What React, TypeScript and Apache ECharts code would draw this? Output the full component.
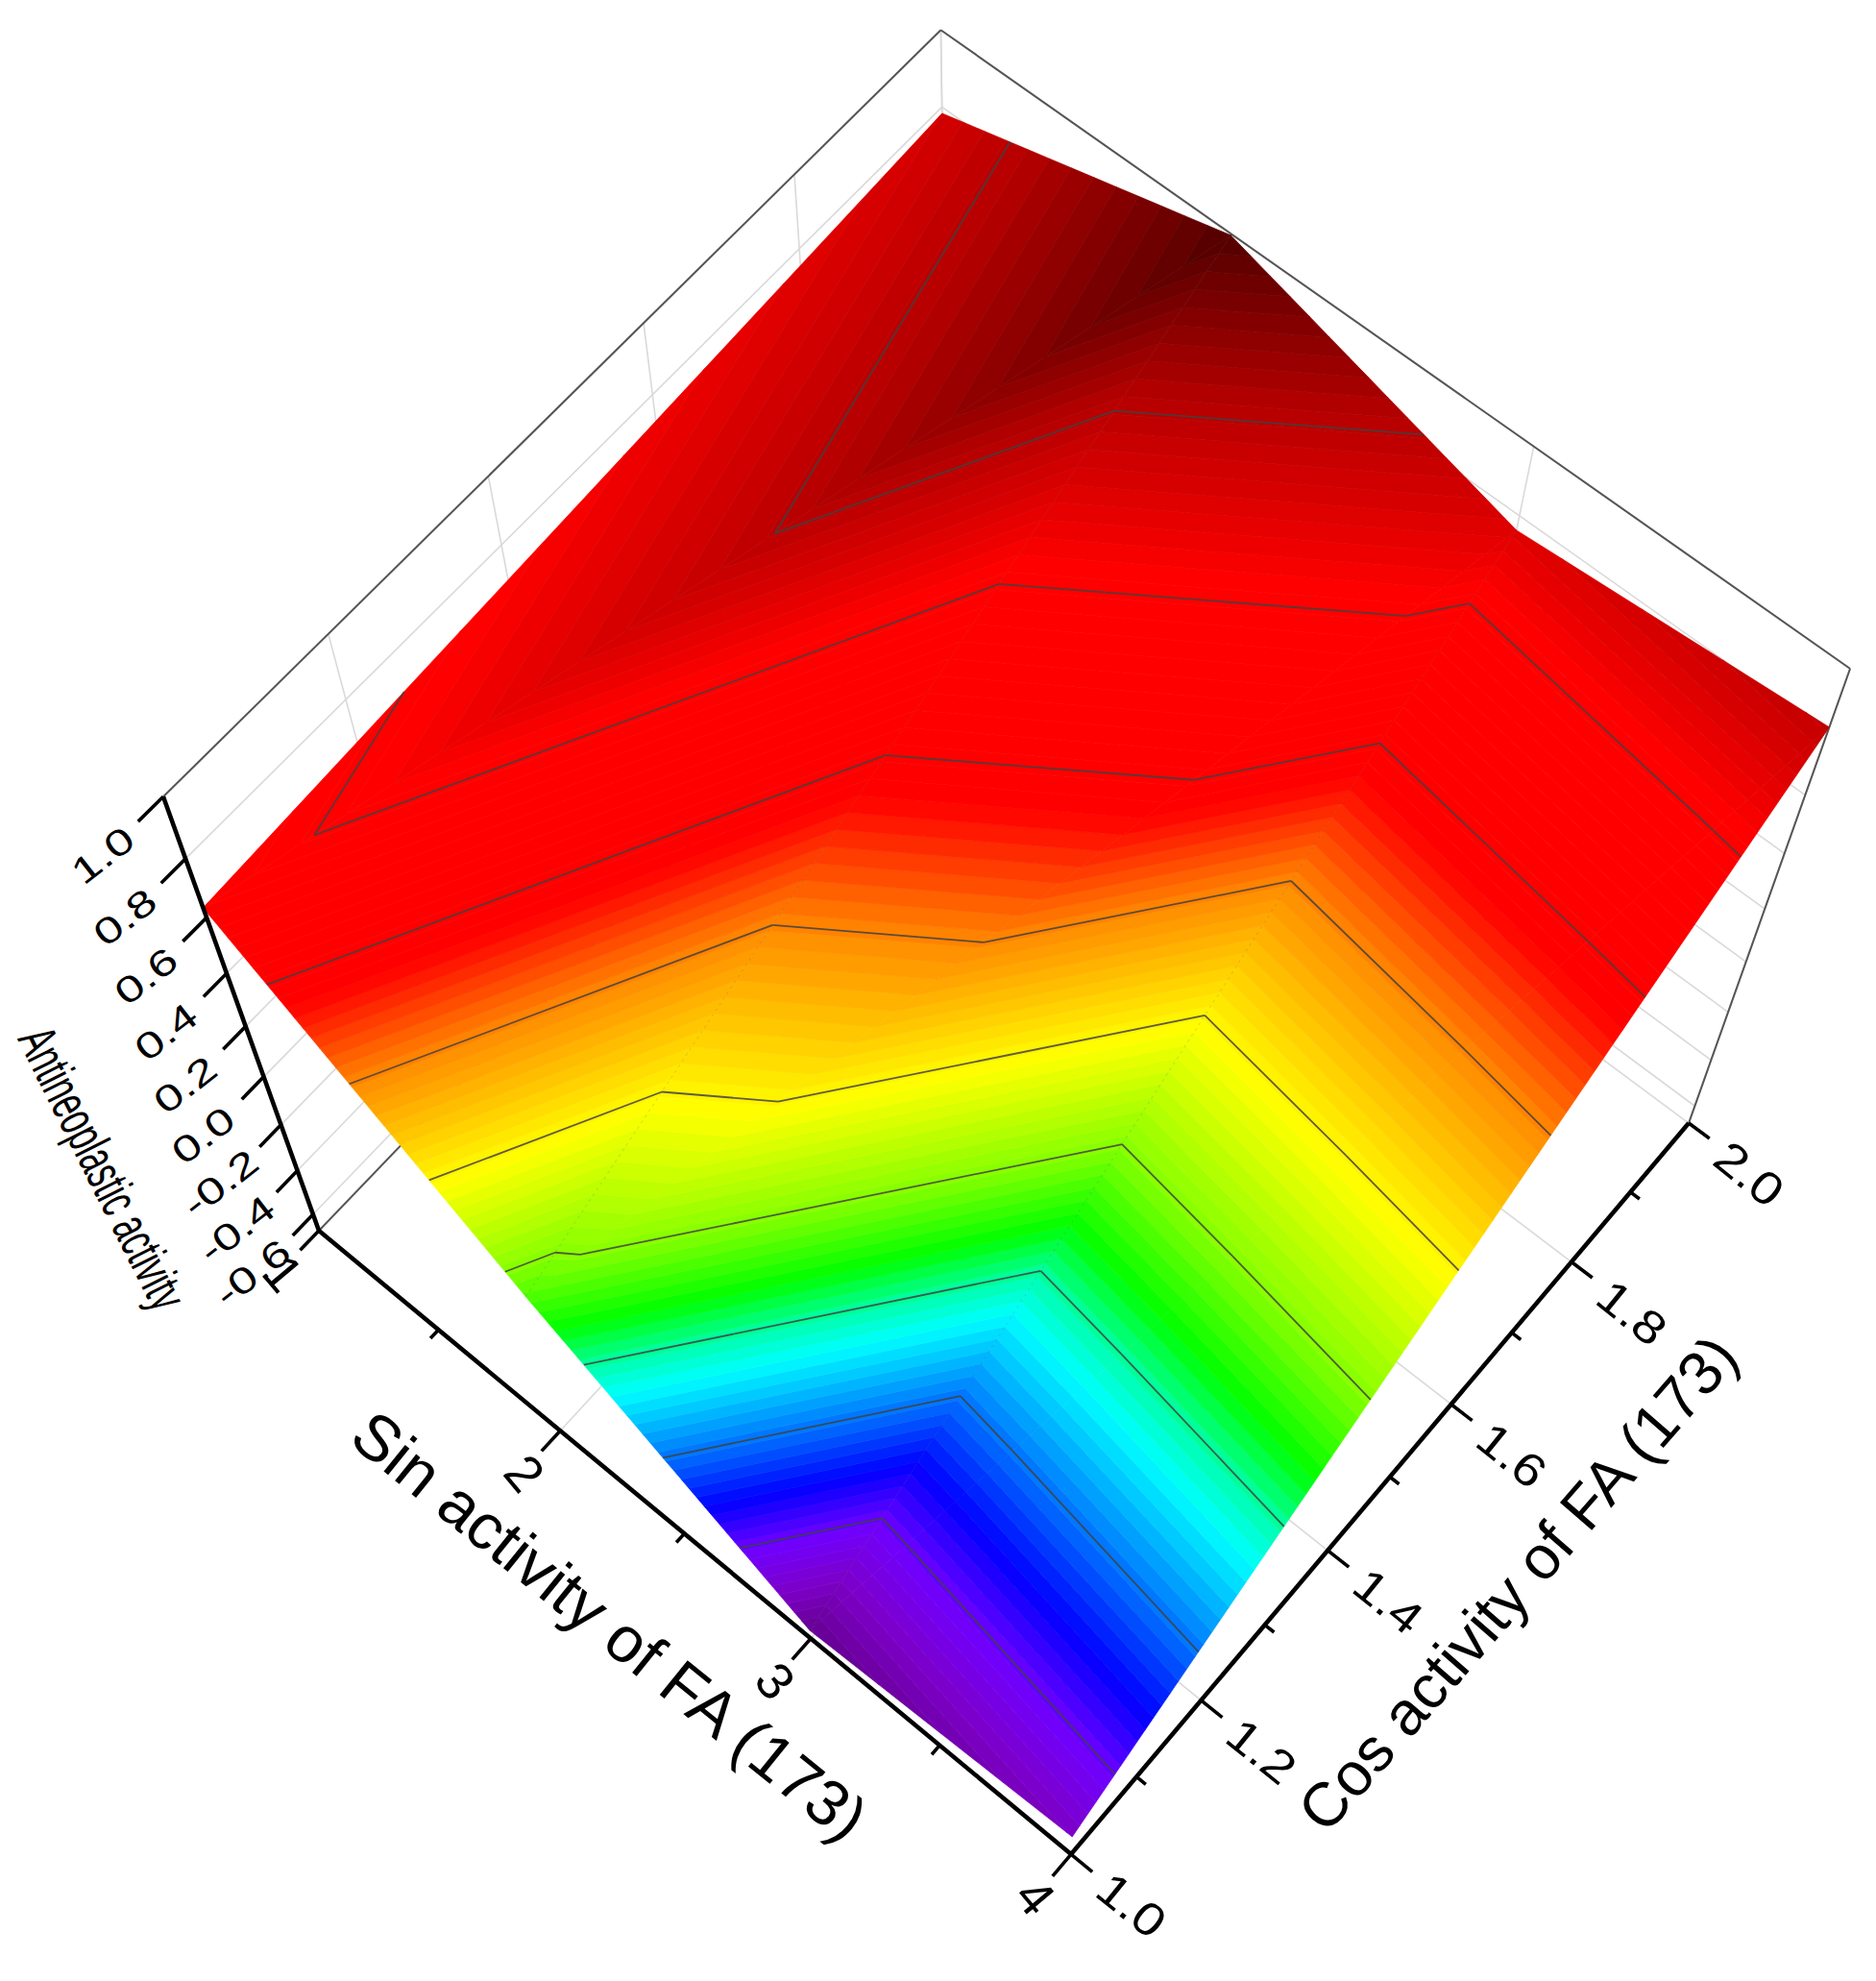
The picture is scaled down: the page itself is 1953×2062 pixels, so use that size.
import { useEffect, useRef } from "react";
import * as echarts from "echarts";

const sinValues = [1, 2, 3, 4];
const cosValues = [1, 2];
// surface heights, one row per cos value
const heightsCos1 = [0.634, -0.027, -0.63, -0.561];
const heightsCos2 = [0.783, 0.996, 0.757, 0.82];
const contourLevels = [-0.475, -0.31, -0.145, 0.018, 0.18, 0.345, 0.51, 0.673, 0.835];

const sinTicks = [1, 2, 3, 4];
const sinMinorTicks = [1.5, 2.5, 3.5];
const cosTicks = [1.0, 1.2, 1.4, 1.6, 1.8, 2.0];
const cosMinorTicks = [1.1, 1.3, 1.5, 1.7, 1.9];
const zTicks = [-0.6, -0.4, -0.2, 0.0, 0.2, 0.4, 0.6, 0.8, 1.0];

const colorStopZ = [-0.68, -0.56, -0.48, -0.4, -0.315, -0.2, -0.15, -0.085, 0.012, 0.165, 0.34, 0.47, 0.69, 0.85, 1.0];
const colorStopRgb = [
  [85, 0, 105],
  [125, 0, 200],
  [110, 0, 255],
  [0, 0, 255],
  [0, 110, 255],
  [0, 255, 255],
  [0, 255, 170],
  [0, 255, 0],
  [130, 255, 0],
  [255, 255, 0],
  [255, 140, 0],
  [255, 0, 0],
  [255, 0, 0],
  [180, 0, 0],
  [80, 0, 0],
];

const W = 1953;
const H = 2062;
const Z_BOTTOM = -0.677;
const Z_TOP = 1;
const BAND = 0.0164;
const FONT = "Liberation Sans";

type P3 = [number, number, number];

// perspective of the 3D box, fitted on its corners
const project = (s: number, c: number, z: number): number[] => {
  const u = (s - 1) / 3;
  const v = c - 1;
  const t = (z - Z_BOTTOM) / (Z_TOP - Z_BOTTOM);
  const w = 1 - 0.055 * u + 0.063 * v - 0.1887 * t;
  return [
    (332 + 721.7 * u + 718.4 * v - 194.1 * t) / w,
    (1281 + 542.9 * u - 645.5 * v - 608.2 * t) / w,
  ];
};

const colorAt = (z: number) => {
  let i = 0;
  while (i < colorStopZ.length - 2 && z > colorStopZ[i + 1]) i++;
  const f = Math.min(1, Math.max(0, (z - colorStopZ[i]) / (colorStopZ[i + 1] - colorStopZ[i])));
  const a = colorStopRgb[i];
  const b = colorStopRgb[i + 1];
  return `rgb(${a.map((x, k) => Math.round(x + (b[k] - x) * f)).join(",")})`;
};

const vertex = (i: number, j: number): P3 => [
  sinValues[i],
  cosValues[j],
  (j === 0 ? heightsCos1 : heightsCos2)[i],
];

const triangles: P3[][] = [];
for (let i = 0; i < sinValues.length - 1; i++) {
  triangles.push([vertex(i, 1), vertex(i + 1, 1), vertex(i, 0)]);
  triangles.push([vertex(i + 1, 1), vertex(i + 1, 0), vertex(i, 0)]);
}

const mix = (a: P3, b: P3, level: number): P3 => {
  const f = (level - a[2]) / (b[2] - a[2]);
  return [a[0] + (b[0] - a[0]) * f, a[1] + (b[1] - a[1]) * f, level];
};

const clip = (poly: P3[], level: number, keepAbove: boolean) => {
  const out: P3[] = [];
  poly.forEach((p, i) => {
    const q = poly[(i + 1) % poly.length];
    const pIn = keepAbove ? p[2] >= level : p[2] <= level;
    const qIn = keepAbove ? q[2] >= level : q[2] <= level;
    if (pIn) out.push(p);
    if (pIn !== qIn) out.push(mix(p, q, level));
  });
  return out;
};

// filled colour bands of the surface
const bandPolys: { poly: P3[]; color: string }[] = [];
triangles.forEach((tri) => {
  for (let lo = Z_BOTTOM; lo < Z_TOP; lo += BAND) {
    const poly = clip(clip(tri, lo, true), lo + BAND, false);
    if (poly.length > 2) bandPolys.push({ poly, color: colorAt(lo + BAND / 2) });
  }
});

const contourSegments: P3[][] = [];
triangles.forEach((tri) => {
  contourLevels.forEach((level) => {
    const pts: P3[] = [];
    tri.forEach((p, i) => {
      const q = tri[(i + 1) % 3];
      if (p[2] < level !== q[2] < level) pts.push(mix(p, q, level));
    });
    if (pts.length === 2) contourSegments.push(pts);
  });
});

type Seg = { a: P3; b: P3; color: string; width: number; dash?: number[] };

const wallGrey = "#d9d9d9";
const frameGrey = "#555555";
const wallSegments: Seg[] = [];
const addWall = (a: P3, b: P3, color = wallGrey, width = 1.6) =>
  wallSegments.push({ a, b, color, width });
zTicks.forEach((z) => {
  addWall([1, 1, z], [1, 2, z]);
  addWall([1, 2, z], [4, 2, z]);
});
cosTicks.forEach((c) => {
  addWall([1, c, Z_BOTTOM], [1, c, Z_TOP]);
  addWall([1, c, Z_BOTTOM], [4, c, Z_BOTTOM]);
});
sinTicks.forEach((s) => {
  addWall([s, 2, Z_BOTTOM], [s, 2, Z_TOP]);
  addWall([s, 1, Z_BOTTOM], [s, 2, Z_BOTTOM]);
});
addWall([1, 1, Z_TOP], [1, 2, Z_TOP], frameGrey, 2);
addWall([1, 2, Z_TOP], [4, 2, Z_TOP], frameGrey, 2);
addWall([4, 2, Z_TOP], [4, 2, Z_BOTTOM], frameGrey, 2);
addWall([1, 1, Z_BOTTOM], [1, 2, Z_BOTTOM], frameGrey, 2);

const creaseSegments: Seg[] = [
  { a: vertex(1, 0), b: vertex(1, 1), color: "rgba(70,70,70,0.2)", width: 1, dash: [3, 4] },
  { a: vertex(2, 0), b: vertex(2, 1), color: "rgba(70,70,70,0.2)", width: 1, dash: [3, 4] },
];

const axisSegments: Seg[] = [
  { a: [1, 1, Z_BOTTOM], b: [4, 1, Z_BOTTOM], color: "#000", width: 4.6 },
  { a: [4, 1, Z_BOTTOM], b: [4, 2, Z_BOTTOM], color: "#000", width: 4.6 },
  { a: [1, 1, Z_BOTTOM], b: [1, 1, Z_TOP], color: "#000", width: 4.6 },
];
sinTicks.forEach((s) =>
  axisSegments.push({ a: [s, 1, Z_BOTTOM], b: [s, 1 - 0.028, Z_BOTTOM], color: "#000", width: 3.6 })
);
sinMinorTicks.forEach((s) =>
  axisSegments.push({ a: [s, 1, Z_BOTTOM], b: [s, 1 - 0.012, Z_BOTTOM], color: "#000", width: 3.6 })
);
cosTicks.forEach((c) =>
  axisSegments.push({ a: [4, c, Z_BOTTOM], b: [4 + 0.08, c, Z_BOTTOM], color: "#000", width: 3.6 })
);
cosMinorTicks.forEach((c) =>
  axisSegments.push({ a: [4, c, Z_BOTTOM], b: [4 + 0.035, c, Z_BOTTOM], color: "#000", width: 3.6 })
);
zTicks.forEach((z) =>
  axisSegments.push({ a: [1, 1, z], b: [1, 1 - 0.03, z], color: "#000", width: 3.6 })
);

type Label = {
  text: string;
  at: P3;
  dx: number;
  dy: number;
  deg: number;
  size: number;
  stretch: number;
};

const labels: Label[] = [
  ...sinTicks.map((s) => ({
    text: String(s),
    at: [s, 1, Z_BOTTOM] as P3,
    dx: -37,
    dy: 44,
    deg: -50,
    size: 54,
    stretch: 1,
  })),
  ...cosTicks.map((c) => ({
    text: c.toFixed(1),
    at: [4, c, Z_BOTTOM] as P3,
    dx: 63,
    dy: 53,
    deg: -39,
    size: 48,
    stretch: 1.15,
  })),
  ...zTicks.map((z) => ({
    text: z.toFixed(1),
    at: [1, 1, z] as P3,
    dx: -63,
    dy: 61,
    deg: 38,
    size: 38,
    stretch: 1.35,
  })),
];

const titles = [
  { text: "Sin activity of FA (173)", x: 635, y: 1692, deg: -39, size: 67, stretch: 1 },
  { text: "Cos activity of FA (173)", x: 1580, y: 1648, deg: 49, size: 64, stretch: 1 },
  { text: "Antineoplastic activity", x: 107, y: 1216, deg: -63.4, size: 56, stretch: 0.6 },
];

const makeLine = (api: any, s: Seg) => {
  const p = api.coord(project(s.a[0], s.a[1], s.a[2]));
  const q = api.coord(project(s.b[0], s.b[1], s.b[2]));
  return {
    type: "line",
    shape: { x1: p[0], y1: p[1], x2: q[0], y2: q[1] },
    style: {
      stroke: s.color,
      lineWidth: s.width,
      lineDash: s.dash,
      lineCap: "butt",
      fill: null,
    },
  };
};

const lineSeries = (name: string, list: Seg[]) => ({
  name,
  type: "custom",
  coordinateSystem: "cartesian2d",
  silent: true,
  clip: false,
  data: list.map((_, i) => [i, 0]),
  renderItem: (params: any, api: any) => makeLine(api, list[params.dataIndex]),
});

const makeText = (
  text: string,
  pos: number[],
  deg: number,
  size: number,
  stretch: number
) => ({
  type: "text",
  x: pos[0],
  y: pos[1],
  rotation: (deg * Math.PI) / 180,
  scaleX: stretch,
  style: {
    text,
    fontSize: size,
    fontFamily: FONT,
    fill: "#000",
    align: "center",
    verticalAlign: "middle",
  },
});

const App = () => {
  const chartRef = useRef<HTMLDivElement>(null);

  useEffect(() => {
    if (!chartRef.current) return;
    const chart = echarts.init(chartRef.current, undefined, { renderer: "svg" });

    const contourList: Seg[] = contourSegments.map((seg) => ({
      a: seg[0],
      b: seg[1],
      color: "rgba(65,65,65,0.85)",
      width: 1.8,
    }));

    const option: any = {
      animation: false,
      backgroundColor: "#fff",
      grid: { left: 0, right: 0, top: 0, bottom: 0 },
      xAxis: { type: "value", min: 0, max: W, show: false },
      yAxis: { type: "value", min: 0, max: H, inverse: true, show: false },
      series: [
        lineSeries("walls", wallSegments),
        {
          name: "surface",
          type: "custom",
          coordinateSystem: "cartesian2d",
          silent: true,
          clip: false,
          data: bandPolys.map((_, i) => [i, 0]),
          renderItem: (params: any, api: any) => {
            const band = bandPolys[params.dataIndex];
            return {
              type: "polygon",
              shape: {
                points: band.poly.map((p) => api.coord(project(p[0], p[1], p[2]))),
              },
              style: { fill: band.color, stroke: band.color, lineWidth: 0.7 },
            };
          },
        },
        lineSeries("creases", creaseSegments),
        lineSeries("contours", contourList),
        lineSeries("axes", axisSegments),
        {
          name: "tick labels",
          type: "custom",
          coordinateSystem: "cartesian2d",
          silent: true,
          clip: false,
          data: labels.map((_, i) => [i, 0]),
          renderItem: (params: any, api: any) => {
            const l = labels[params.dataIndex];
            const p = project(l.at[0], l.at[1], l.at[2]);
            return makeText(l.text, api.coord([p[0] + l.dx, p[1] + l.dy]), l.deg, l.size, l.stretch);
          },
        },
        {
          name: "axis titles",
          type: "custom",
          coordinateSystem: "cartesian2d",
          silent: true,
          clip: false,
          data: titles.map((_, i) => [i, 0]),
          renderItem: (params: any, api: any) => {
            const t = titles[params.dataIndex];
            return makeText(t.text, api.coord([t.x, t.y]), t.deg, t.size, t.stretch);
          },
        },
      ],
    };

    chart.setOption(option);

    return () => {
      chart.dispose();
    };
  }, []);

  return (
    <div
      ref={chartRef}
      style={{ position: "absolute", left: 0, top: 0, width: W, height: H }}
    />
  );
};

export default App;
